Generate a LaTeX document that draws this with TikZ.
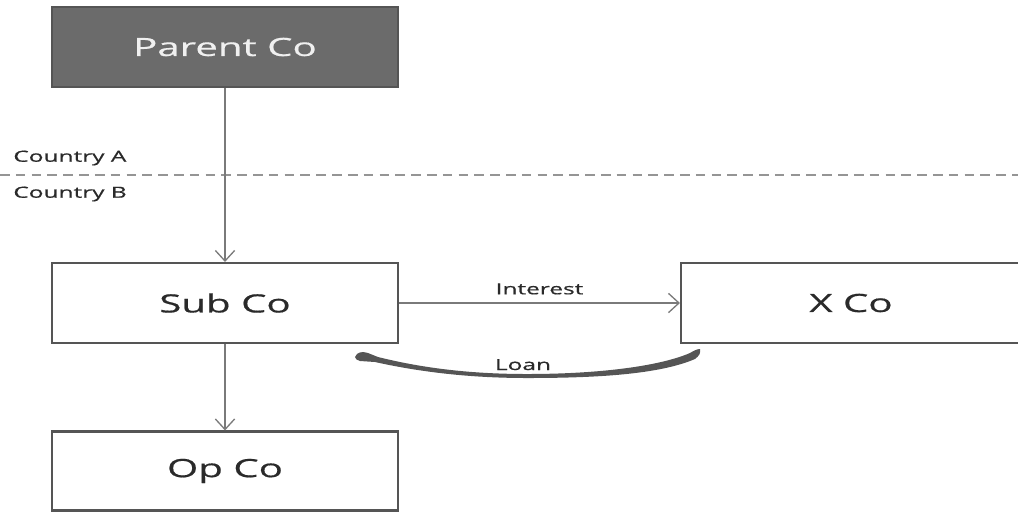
\documentclass[tikz,border=0pt]{standalone}
\usepackage{fontspec}
\setmainfont{Open Sans}[FakeStretch=1.6, FakeBold=0.6]
\usetikzlibrary{arrows.meta}
\definecolor{boxline}{HTML}{555555}
\definecolor{darkfill}{HTML}{6B6B6B}
\definecolor{linkgray}{HTML}{7A7A7A}
\definecolor{txt}{HTML}{2A2A2A}
\tikzset{
  entity/.style={draw=boxline, line width=1.2pt, fill=white, text=txt,
    font=\fontsize{14.3}{17}\selectfont, inner sep=0pt},
  parentbox/.style={entity, fill=darkfill, text=white!94!black},
  link/.style={draw=linkgray, line width=0.75pt,
    -{Straight Barb[length=6pt, width=11pt, line width=0.75pt]}},
  smalllabel/.style={text=txt, font=\fontsize{8.7}{10}\selectfont, inner sep=0pt}
}
\begin{document}
\begin{tikzpicture}[x=0.02cm, y=-0.02cm]
  \useasboundingbox (0,0) rectangle (1018,512);
  \clip (0,0) rectangle (1018,512);

  % border between the two countries
  \draw[linkgray!80, line width=0.7pt, dash pattern=on 5.5pt off 3.5pt] (0,175) -- (1018,175);
  \node[smalllabel, anchor=west] (ca) at (13,158) {Country A};
  \node[smalllabel, anchor=west] (cb) at (13,194) {Country B};

  % entities
  \node[parentbox, minimum width=346*0.02cm, minimum height=80*0.02cm] (parent) at (225,47) {Parent Co};
  \node[entity, minimum width=346*0.02cm, minimum height=80*0.02cm] (sub) at (225,303) {Sub Co};
  \node[entity, minimum width=346*0.02cm, minimum height=79*0.02cm] (op) at (225,471) {Op Co};
  \node[entity, minimum width=360*0.02cm, minimum height=80*0.02cm] (x) at (861,303) {};
  \node[text=txt, font=\fontsize{14.3}{17}\selectfont, inner sep=0pt] (xlabel) at (851,303) {X Co};

  % ownership and payment flows
  \draw[link] (parent) -- (sub);
  \draw[link] (sub) -- (op);
  \draw[link] (sub.east) -- node[smalllabel, above=4.5pt] (interest) {Interest} (x.west);

  % loan from X Co back to Sub Co, a tapered stroke
  \coordinate (loanL) at (355,357);
  \coordinate (loanR) at (700,349);
  \fill[boxline] (loanL) .. controls (357,352) and (362,351) .. (368,353) -- (378,357)
    .. controls (430,370) and (480,374) .. (527,374)
    .. controls (600,374) and (660,366) .. (690,353)
    .. controls (693,351) and (697,349) .. (loanR)
    .. controls (701,353) and (699,356) .. (695,359)
    .. controls (660,374) and (600,378) .. (527,378)
    .. controls (470,378) and (420,372) .. (375,362)
    -- (360,361) .. controls (357,360) and (355,359) .. (loanL) -- cycle;
  \node[smalllabel, anchor=base] (loan) at (523,370) {Loan};
\end{tikzpicture}
\end{document}
